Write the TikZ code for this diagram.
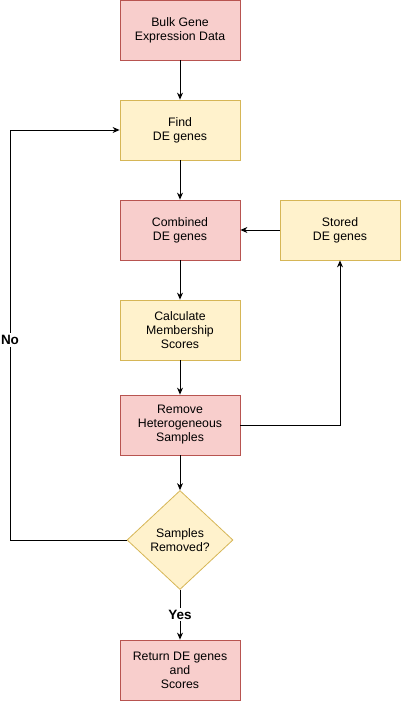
\documentclass[tikz,border=0pt]{standalone}
\usepackage{fontspec}
\setmainfont{Liberation Sans}
\usetikzlibrary{arrows.meta,shapes.geometric}
\definecolor{redfill}{HTML}{F8CECC}
\definecolor{redline}{HTML}{B85450}
\definecolor{yelfill}{HTML}{FFF2CC}
\definecolor{yelline}{HTML}{D6B656}
\begin{document}
\begin{tikzpicture}[x=1pt, y=-1pt, font=\fontsize{12.3}{14}\selectfont]
    \tikzstyle{box_red} = [rectangle, draw=redline, fill=redfill, minimum width=120pt, minimum height=60pt, align=center, inner sep=0pt, line width=0.8pt]
    \tikzstyle{box_yel} = [rectangle, draw=yelline, fill=yelfill, minimum width=120pt, minimum height=60pt, align=center, inner sep=0pt, line width=0.8pt]
    \tikzstyle{decision} = [diamond, draw=yelline, fill=yelfill, minimum width=106pt, minimum height=99pt, aspect=1.07, align=center, inner sep=0pt, line width=0.8pt]
    \tikzstyle{edge_style} = [draw=black, line width=0.9pt, -{Stealth[length=7pt, width=6pt]}]
    \tikzstyle{edge_label} = [fill=white, inner sep=2pt, font=\fontsize{13.5}{15}\selectfont\bfseries]
    \useasboundingbox (0,0) rectangle (401,701);
    \node[box_red] (bulk) at (180,30) {Bulk Gene\\Expression Data};
    \node[box_yel] (find) at (180,130) {Find\\DE genes};
    \node[box_red] (comb) at (180,230) {Combined\\DE genes};
    \node[box_yel] (stored) at (340,230) {Stored\\DE genes};
    \node[box_yel] (calc) at (180,330) {Calculate\\Membership\\Scores};
    \node[box_red] (remove) at (180,425) {Remove\\Heterogeneous\\Samples};
    \node[decision] (check) at (180,540) {Samples\\Removed?};
    \node[box_red] (ret) at (180,670) {Return DE genes\\and\\Scores};

    \coordinate (loop_bot) at (10,540);
    \coordinate (loop_top) at (10,130);
    \coordinate (side) at (340,425);

    \draw[edge_style]  (bulk) -- (find);
    \draw[edge_style]  (find) -- (comb);
    \draw[edge_style]  (comb) -- (calc);
    \draw[edge_style]  (calc) -- (remove);
    \draw[edge_style]  (remove) -- (check);
    \draw[edge_style]  (stored) -- (comb);
    \draw[edge_style]  (remove.east) -- (side) -- (stored.south);
    \draw[edge_style]  (check.west) -- (loop_bot) -- node[edge_label, pos=0.488] (no) {No} (loop_top) -- (find.west);
    \draw[edge_style]  (check.south) -- node[edge_label, pos=0.5] (yes) {Yes} (ret.north);
\end{tikzpicture}
\end{document}
